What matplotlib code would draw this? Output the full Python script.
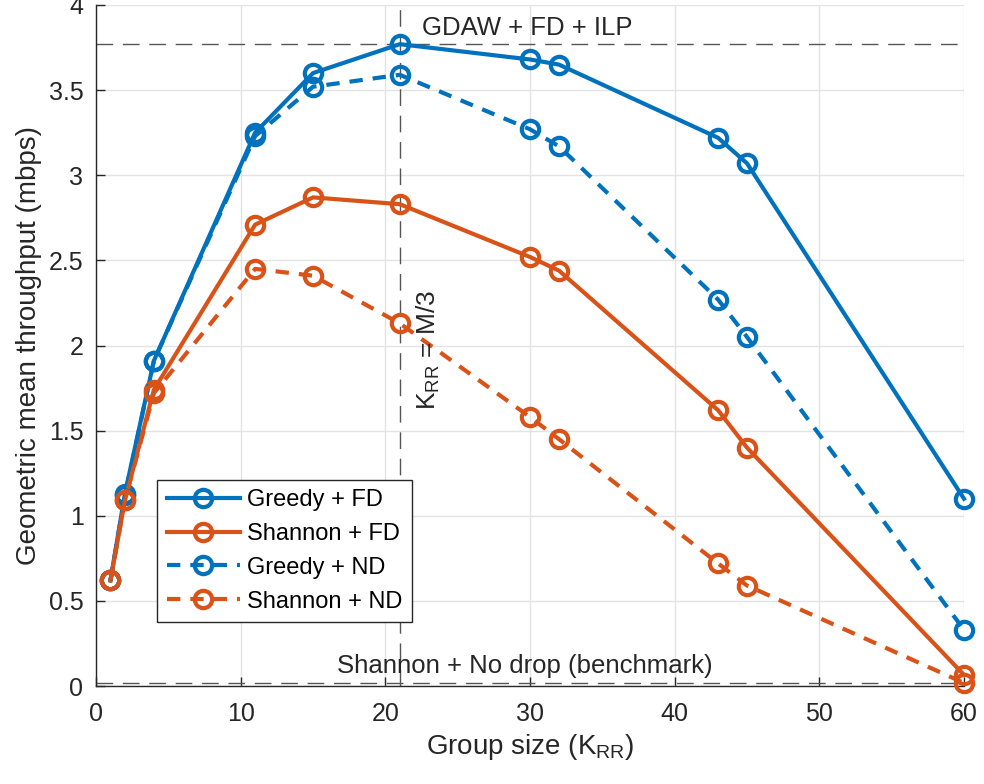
import matplotlib
matplotlib.use("Agg")
import matplotlib.pyplot as plt

plt.rcParams['font.family'] = ['Liberation Sans', 'DejaVu Sans']
plt.rcParams['mathtext.default'] = 'regular'

# Group sizes and geometric mean throughput (mbps)
group_size = [1, 2, 4, 11, 15, 21, 30, 32, 43, 45, 60]
greedy_fd = [0.62, 1.13, 1.91, 3.25, 3.60, 3.77, 3.68, 3.65, 3.22, 3.07, 1.10]
shannon_fd = [0.62, 1.09, 1.74, 2.71, 2.87, 2.83, 2.52, 2.44, 1.62, 1.40, 0.065]
greedy_nd = [0.62, 1.12, 1.91, 3.23, 3.52, 3.59, 3.27, 3.17, 2.27, 2.05, 0.33]
shannon_nd = [0.62, 1.09, 1.72, 2.45, 2.41, 2.13, 1.58, 1.45, 0.72, 0.59, 0.018]

ilp_level = 3.77
benchmark_level = 0.015
k_rr_ref = 21

blue = '#0072BD'
orange = '#D95319'
text_col = '#262626'

fig = plt.figure(figsize=(9.84, 7.84), dpi=100)
ax = fig.add_axes([96/984, 1 - 686/784, (964-96)/984, (686-5)/784])

series = [
    (greedy_fd, blue, '-', 'Greedy + FD'),
    (shannon_fd, orange, '-', 'Shannon + FD'),
    (greedy_nd, blue, (0, (3.2, 2.4)), 'Greedy + ND'),
    (shannon_nd, orange, (0, (3.2, 2.4)), 'Shannon + ND'),
]
for vals, col, ls, lab in series:
    ax.plot(group_size, vals, color=col, linestyle=ls, linewidth=3,
            marker='o', markersize=12.5, markerfacecolor='none',
            markeredgewidth=3, label=lab, zorder=3, clip_on=False)

ref_kw = dict(color='#555555', linewidth=1, linestyle=(0, (12, 7)), zorder=2)
ax.axhline(ilp_level, **ref_kw)
ax.axhline(benchmark_level, **ref_kw)
ax.axvline(k_rr_ref, **ref_kw)

ax.text(22.54, 3.824, 'GDAW + FD + ILP', fontsize=18.5, color=text_col,
        va='baseline', ha='left')
ax.text(16.63, 0.076, 'Shannon + No drop (benchmark)', fontsize=18.5,
        color=text_col, va='baseline', ha='left')
ax.text(23.0, 1.62, r'K$_{RR}$ = M/3', fontsize=19, color=text_col,
        rotation=90, va='bottom', ha='center')

ax.set_xlim(0, 60)
ax.set_ylim(0, 4)
ax.set_xticks([0, 10, 20, 30, 40, 50, 60])
ax.set_yticks([0, 0.5, 1, 1.5, 2, 2.5, 3, 3.5, 4])
ax.set_yticklabels(['0', '0.5', '1', '1.5', '2', '2.5', '3', '3.5', '4'])

ax.grid(True, color='#e3e3e3', linewidth=1)
ax.set_axisbelow(True)
for s in ['top', 'right']:
    ax.spines[s].set_visible(False)
for s in ['left', 'bottom']:
    ax.spines[s].set_color(text_col)
    ax.spines[s].set_linewidth(1)
ax.tick_params(direction='in', length=6.5, width=1, colors=text_col,
               labelsize=18)
ax.tick_params(axis='y', pad=9)
ax.tick_params(axis='x', pad=11.5)

ax.set_xlabel(r'Group size (K$_{RR}$)', fontsize=20, color=text_col, labelpad=4)
ax.set_ylabel('Geometric mean throughput (mbps)', fontsize=20,
              color=text_col, labelpad=5)

leg = ax.legend(loc='lower left', bbox_to_anchor=(0.0705, 0.094),
                fontsize=17, handlelength=3.1, numpoints=1, fancybox=False,
                framealpha=1, edgecolor=text_col, borderpad=0.4,
                labelspacing=0.5, handletextpad=0.3, borderaxespad=0)
leg.get_frame().set_linewidth(1)

fig.savefig('out.png', dpi=100)
